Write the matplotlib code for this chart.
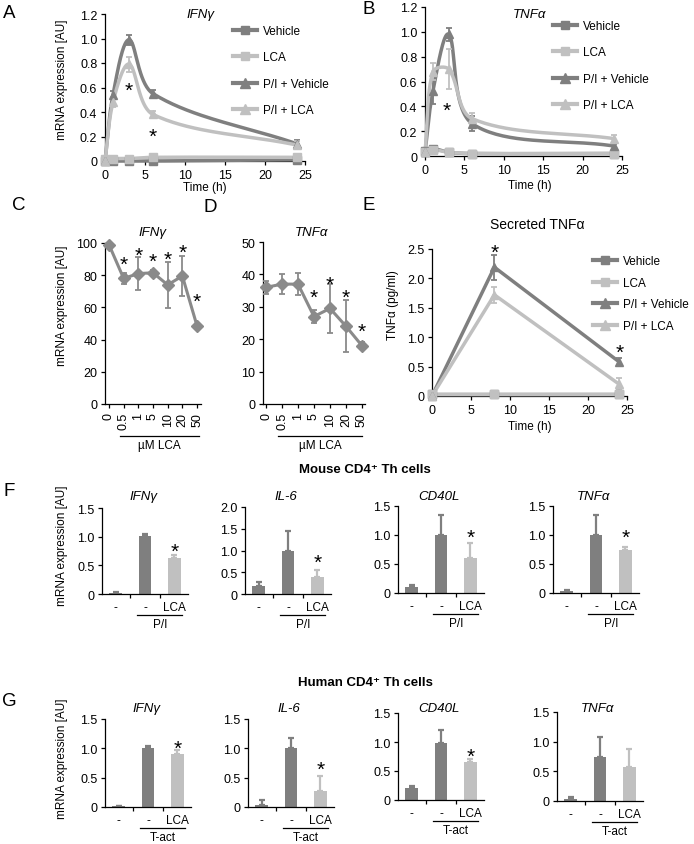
import numpy as np
import matplotlib
matplotlib.use('Agg')
import matplotlib.pyplot as plt
from matplotlib.lines import Line2D
from matplotlib.transforms import blended_transform_factory

# ---- data ----
t_hours = [0, 1, 3, 6, 24]
a_vehicle = [0.0, 0.0, 0.0, 0.0, 0.01]
a_lca = [0.02, 0.02, 0.02, 0.03, 0.03]
a_pi_vehicle = [0.0, 0.54, 0.99, 0.55, 0.14]
a_pi_vehicle_err = [0.0, 0.03, 0.04, 0.03, 0.03]
a_pi_lca = [0.0, 0.48, 0.79, 0.38, 0.13]
a_pi_lca_err = [0.0, 0.04, 0.06, 0.03, 0.03]

b_vehicle = [0.04, 0.06, 0.03, 0.02, 0.02]
b_vehicle_err = [0.02, 0.02, 0.01, 0.01, 0.01]
b_lca = [0.03, 0.05, 0.03, 0.02, 0.02]
b_pi_vehicle = [0.03, 0.52, 0.98, 0.26, 0.08]
b_pi_vehicle_err = [0.0, 0.1, 0.05, 0.06, 0.02]
b_pi_lca = [0.03, 0.68, 0.70, 0.30, 0.14]
b_pi_lca_err = [0.0, 0.07, 0.16, 0.05, 0.03]

conc_labels = ['0', '0.5', '1', '5', '10', '20', '50']
c_ifng = [99, 78, 81, 81.5, 74, 79.5, 48.5]
c_ifng_err = [1, 3.5, 10, 2, 14.5, 12.5, 1]
c_stars = [None, 90, 96, 92, 93, 97.5, 67]
d_tnfa = [36, 37, 37, 27, 29.5, 24, 18]
d_tnfa_err = [2, 3, 3.5, 2, 7.5, 8, 1]
d_stars = [None, None, None, 34.5, 38.5, 34.5, 24]

e_hours = [0, 8, 24]
e_vehicle = [0.03, 0.03, 0.03]
e_lca = [0.03, 0.03, 0.03]
e_pi_vehicle = [0.0, 2.19, 0.58]
e_pi_vehicle_err = [0.0, 0.21, 0.07]
e_pi_lca = [0.0, 1.72, 0.20]
e_pi_lca_err = [0.0, 0.14, 0.10]
e_stars = [(8, 2.53), (24, 0.83)]

genes = ['IFNγ', 'IL-6', 'CD40L', 'TNFα']
bar_labels = ['-', '-', 'LCA']
mouse_vals = [[0.02, 1.01, 0.63], [0.18, 1.0, 0.38], [0.1, 1.0, 0.6], [0.03, 1.0, 0.75]]
mouse_err = [[0.01, 0.04, 0.05], [0.1, 0.45, 0.18], [0.03, 0.35, 0.26], [0.03, 0.35, 0.05]]
mouse_star = [0.84, 0.85, 1.05, 1.05]
mouse_ymax = [1.5, 2.0, 1.5, 1.5]
human_vals = [[0.01, 1.0, 0.9], [0.04, 1.0, 0.28], [0.2, 0.98, 0.65], [0.04, 0.74, 0.58]]
human_err = [[0.01, 0.04, 0.07], [0.08, 0.18, 0.24], [0.05, 0.22, 0.05], [0.02, 0.34, 0.3]]
human_star = [1.1, 0.73, 0.85, None]
human_ymax = [1.5, 1.5, 1.5, 1.5]

legend_labels = ['Vehicle', 'LCA', 'P/I + Vehicle', 'P/I + LCA']

DARK = '#7f7f7f'
LIGHT = '#c0c0c0'
MID = '#8a8a8a'

plt.rcParams['font.family'] = ['Liberation Sans', 'DejaVu Sans']
plt.rcParams['font.size'] = 8.5
plt.rcParams['axes.linewidth'] = 0.9
for a in ('xtick', 'ytick'):
    plt.rcParams[a + '.major.width'] = 0.9
    plt.rcParams[a + '.major.size'] = 3
    plt.rcParams[a + '.major.pad'] = 2.5
    plt.rcParams[a + '.labelsize'] = 9

W, H = 694, 845
fig = plt.figure(figsize=(W / 100, H / 100), dpi=100)


def add_ax(l, r, t, b):
    ax = fig.add_axes([l / W, 1 - b / H, (r - l) / W, (b - t) / H])
    ax.spines[['top', 'right']].set_visible(False)
    ax.patch.set_alpha(0)
    return ax


def ftext(x, y, s, **kw):
    kw.setdefault('ha', 'center')
    kw.setdefault('va', 'center')
    fig.text(x / W, 1 - y / H, s, **kw)


def smooth(x, y, sx, sy, n=40):
    # Excel-like smoothed line: bezier segments, tangents from neighbours
    p = np.column_stack([np.asarray(x, float) * sx, np.asarray(y, float) * sy])
    p = np.vstack([p[0], p, p[-1]])
    s = np.linspace(0, 1, n)[:, None]
    out = []
    for i in range(1, len(p) - 2):
        p0, p1, p2, p3 = p[i - 1], p[i], p[i + 1], p[i + 2]
        d01 = np.hypot(*(p1 - p0))
        d12 = np.hypot(*(p2 - p1))
        d23 = np.hypot(*(p3 - p2))
        c1 = p1 + (p2 - p0) * (d12 / (d01 + d12) / 3 if d01 + d12 else 0)
        c2 = p2 - (p3 - p1) * (d12 / (d12 + d23) / 3 if d12 + d23 else 0)
        out.append((1 - s) ** 3 * p1 + 3 * (1 - s) ** 2 * s * c1 + 3 * (1 - s) * s ** 2 * c2 + s ** 3 * p2)
    out = np.vstack(out)
    return out[:, 0] / sx, out[:, 1] / sy


def fmt(v):
    return '0' if v == 0 else ('%.1f' % v)


def star(ax, x, y, size=15):
    ax.annotate('*', xy=(x, y), xytext=(0, -4), textcoords='offset points',
                ha='center', va='center', fontsize=size, annotation_clip=False)


def time_panel(ax, series, smooth_it, sx, sy, lw=2.5):
    for t, vals, errs, color, marker in series:
        if smooth_it:
            xs, ys = smooth(t, vals, sx, sy)
        else:
            xs, ys = t, vals
        ax.plot(xs, ys, color=color, lw=lw, clip_on=False, zorder=3, solid_capstyle='round')
        ax.errorbar(t, vals, yerr=errs, fmt='none', ecolor=color, elinewidth=1.3,
                    capsize=2, capthick=1.3, clip_on=False, zorder=3)
        ax.plot(t, vals, ls='none', marker=marker, ms=6, color=color, clip_on=False, zorder=4)


def legend(ax, x, y, spacing):
    handles = [Line2D([], [], color=DARK, lw=3, marker='s', ms=6),
               Line2D([], [], color=LIGHT, lw=3, marker='s', ms=6),
               Line2D([], [], color=DARK, lw=3, marker='^', ms=7),
               Line2D([], [], color=LIGHT, lw=3, marker='^', ms=7)]
    ax.legend(handles, legend_labels, loc='upper left', bbox_to_anchor=(x / W, 1 - y / H),
              bbox_transform=fig.transFigure, frameon=False, borderpad=0, borderaxespad=0,
              handlelength=2.0, handletextpad=0.5, labelspacing=spacing, fontsize=8.5)


zeros5 = [0] * 5

# ---- A ----
ax = add_ax(105, 305, 15, 162)
time_panel(ax, [
    (t_hours, a_vehicle, zeros5, DARK, 's'),
    (t_hours, a_lca, zeros5, LIGHT, 's'),
    (t_hours, a_pi_vehicle, a_pi_vehicle_err, DARK, '^'),
    (t_hours, a_pi_lca, a_pi_lca_err, LIGHT, '^')], True, 8.0, 122.5)
ax.set_xlim(0, 25)
ax.set_ylim(0, 1.2)
ax.set_xticks(range(0, 26, 5))
yt = np.arange(0, 1.21, 0.2)
ax.set_yticks(yt, [fmt(round(v, 1)) for v in yt])
star(ax, 2.9, 0.62)
star(ax, 5.9, 0.245)
legend(ax, 233, 26, 1.22)
ftext(205, 188, 'Time (h)')
ftext(62, 80, 'mRNA expression [AU]', rotation=90)
ftext(200, 15, 'IFNγ', style='italic', fontsize=9.5)

# ---- B ----
ax = add_ax(425, 622, 8, 157)
time_panel(ax, [
    (t_hours, b_vehicle, b_vehicle_err, DARK, 's'),
    (t_hours, b_lca, zeros5, LIGHT, 's'),
    (t_hours, b_pi_vehicle, b_pi_vehicle_err, DARK, '^'),
    (t_hours, b_pi_lca, b_pi_lca_err, LIGHT, '^')], True, 7.88, 124)
ax.set_xlim(0, 25)
ax.set_ylim(0, 1.2)
ax.set_xticks(range(0, 26, 5))
ax.set_yticks(yt, [fmt(round(v, 1)) for v in yt])
star(ax, 2.8, 0.41)
legend(ax, 553, 21, 1.22)
ftext(530, 186, 'Time (h)')
ftext(530, 15, 'TNFα', style='italic', fontsize=9.5)


# ---- C, D ----
def conc_panel(ax, vals, errs, stars, ymax, step, xl, line_px):
    x = np.arange(len(vals))
    ax.errorbar(x, vals, yerr=errs, color=MID, ecolor=MID, marker='D', ms=6.5, lw=2.2,
                elinewidth=1.3, capsize=2.5, capthick=1.3, clip_on=False, zorder=3)
    for i, s in enumerate(stars):
        if s is not None:
            star(ax, i, s)
    ax.set_xlim(*xl)
    ax.set_ylim(0, ymax)
    ax.set_yticks(np.arange(0, ymax + 1, step))
    ax.set_xticks(x, conc_labels, rotation=90)
    tr = blended_transform_factory(ax.transData, fig.transFigure)
    ax.plot([line_px[0], line_px[1]], [1 - 437 / H] * 2, color='k', lw=0.9,
            transform=tr, clip_on=False)
    ax.text((line_px[0] + line_px[1]) / 2, 1 - 446 / H, 'µM LCA', transform=tr,
            ha='center', va='center')


ax = add_ax(105, 201, 244, 405)
conc_panel(ax, c_ifng, c_ifng_err, c_stars, 100, 20, (-0.27, 6.27), (0.75, 6.1))
ftext(62, 306, 'mRNA expression [AU]', rotation=90)
ftext(152, 233, 'IFNγ', style='italic', fontsize=9.5)

ax = add_ax(263, 365, 243, 405)
conc_panel(ax, d_tnfa, d_tnfa_err, d_stars, 50, 10, (-0.19, 6.19), (0.75, 6.0))
ftext(312, 233, 'TNFα', style='italic', fontsize=9.5)

# ---- E ----
ax = add_ax(432, 627, 250, 397)
z3 = [0, 0, 0]
time_panel(ax, [
    (e_hours, e_vehicle, z3, DARK, 's'),
    (e_hours, e_lca, z3, LIGHT, 's'),
    (e_hours, e_pi_vehicle, e_pi_vehicle_err, DARK, '^'),
    (e_hours, e_pi_lca, e_pi_lca_err, LIGHT, '^')], False, 1, 1)
ax.set_xlim(0, 25)
ax.set_ylim(0, 2.5)
ax.set_xticks(range(0, 26, 5))
ye = np.arange(0, 2.51, 0.5)
ax.set_yticks(ye, [fmt(round(v, 1)) for v in ye])
for sx_, sy_ in e_stars:
    star(ax, sx_, sy_)
legend(ax, 593, 256, 0.82)
ftext(530, 427, 'Time (h)')
ftext(393, 305, 'TNFα (pg/ml)', rotation=90)
ftext(537, 225, 'Secreted TNFα', fontsize=10)


# ---- F, G bars ----
def bar_panel(l, t, b, gene, vals, errs, s, ymax, group, title_y):
    ax = add_ax(l, l + 86, t, b)
    x = np.arange(3)
    colors = [DARK, DARK, LIGHT]
    for i in x:
        ax.bar(i, vals[i], width=0.42, color=colors[i], zorder=2)
        ax.errorbar(i, vals[i], yerr=[[0], [errs[i]]], fmt='none', ecolor=colors[i],
                    elinewidth=1.6, capsize=2.5, capthick=1.6, zorder=2)
    if s is not None:
        star(ax, 2, s)
    ax.set_xlim(-0.46, 2.46)
    ax.set_ylim(0, ymax)
    ticks = np.arange(0, ymax + 0.01, 0.5)
    ax.set_yticks(ticks, [fmt(v) for v in ticks])
    ax.set_xticks([0.5, 1.5], ['', ''])
    tr = blended_transform_factory(ax.transData, fig.transFigure)
    for i in x:
        ax.text(i, 1 - (b + 13) / H, bar_labels[i], transform=tr, ha='center', va='center')
    ax.plot([0.73, 2.24], [1 - (b + 21) / H] * 2, color='k', lw=0.9, transform=tr, clip_on=False)
    ax.text(1.5, 1 - (b + 30) / H, group, transform=tr, ha='center', va='center')
    ftext(l + 41, title_y, gene, style='italic', fontsize=9.5)
    return ax


mouse_pos = [(102, 509, 595), (245, 508, 595), (398, 507, 594), (553, 507, 594)]
for k in range(4):
    l, t, b = mouse_pos[k]
    bar_panel(l, t, b, genes[k], mouse_vals[k], mouse_err[k], mouse_star[k], mouse_ymax[k], 'P/I', 497)

human_pos = [(105, 720, 808), (248, 720, 808), (398, 714, 801), (557, 713, 802)]
for k in range(4):
    l, t, b = human_pos[k]
    bar_panel(l, t, b, genes[k], human_vals[k], human_err[k], human_star[k], human_ymax[k], 'T-act', 709)

ftext(62, 546, 'mRNA expression [AU]', rotation=90)
ftext(62, 759, 'mRNA expression [AU]', rotation=90)
ftext(365, 470, 'Mouse CD4⁺ Th cells', fontweight='bold', fontsize=9.5)
ftext(365, 683, 'Human CD4⁺ Th cells', fontweight='bold', fontsize=9.5)

# panel letters
for letter, x, y in [('A', 9, 13), ('B', 369, 10), ('C', 19, 205), ('D', 210, 208),
                     ('E', 369, 205), ('F', 9, 492), ('G', 9, 702)]:
    ftext(x, y, letter, fontsize=13.5)

fig.savefig('out.png', dpi=100)
